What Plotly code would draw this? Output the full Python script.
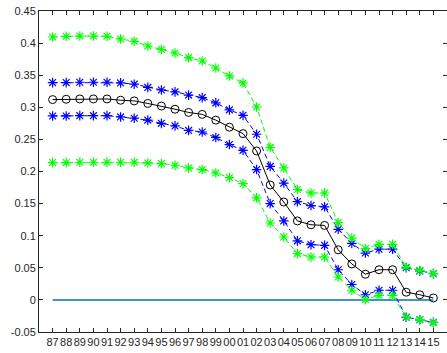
import plotly.graph_objects as go

years = ["87","88","89","90","91","92","93","94","95","96","97","98","99","00","01",
         "02","03","04","05","06","07","08","09","10","11","12","13","14","15"]

mean_vals = [0.312, 0.3125, 0.313, 0.313, 0.313, 0.311, 0.310, 0.306, 0.302, 0.297,
             0.292, 0.289, 0.280, 0.269, 0.259, 0.232, 0.179, 0.1525, 0.123, 0.117,
             0.116, 0.078, 0.056, 0.040, 0.047, 0.047, 0.012, 0.008, 0.003]

blue_upper = [0.3385, 0.3385, 0.339, 0.339, 0.339, 0.338, 0.336, 0.331, 0.327, 0.324,
              0.319, 0.315, 0.307, 0.296, 0.2875, 0.258, 0.208, 0.182, 0.153, 0.147,
              0.145, 0.110, 0.088, 0.073, 0.079, 0.079, 0.050, 0.045, 0.041]

blue_lower = [0.2865, 0.2865, 0.287, 0.287, 0.287, 0.285, 0.283, 0.280, 0.275, 0.271,
              0.264, 0.2615, 0.253, 0.242, 0.233, 0.203, 0.150, 0.123, 0.092, 0.086,
              0.085, 0.047, 0.024, 0.008, 0.015, 0.015, -0.027, -0.031, -0.035]

green_upper = [0.4095, 0.4106, 0.411, 0.411, 0.4106, 0.4064, 0.4028, 0.3955, 0.390, 0.3846,
               0.3774, 0.3721, 0.3612, 0.3488, 0.3379, 0.3005, 0.2375, 0.2055, 0.172, 0.1665,
               0.1665, 0.1204, 0.0963, 0.080, 0.0866, 0.0866, 0.0512, 0.046, 0.041]

green_lower = [0.2139, 0.2139, 0.2144, 0.2144, 0.2144, 0.2144, 0.2144, 0.2133, 0.2123, 0.2097,
               0.2055, 0.203, 0.1977, 0.1905, 0.181, 0.159, 0.1198, 0.098, 0.0721, 0.0668,
               0.0668, 0.0357, 0.015, 0.0005, 0.0072, 0.0072, -0.0266, -0.0307, -0.0354]

zero_line = [0.0] * len(years)

y_ticks = [-0.05, 0, 0.05, 0.1, 0.15, 0.2, 0.25, 0.3, 0.35, 0.4, 0.45]
y_tick_text = ["-0.05", "0", "0.05", "0.1", "0.15", "0.2", "0.25", "0.3", "0.35", "0.4", "0.45"]

x = list(range(1, len(years) + 1))

fig = go.Figure()

fig.add_trace(go.Scatter(x=x, y=zero_line, mode="lines",
                         line=dict(color="#0072BD", width=1.5), showlegend=False))

def band(yvals, color):
    fig.add_trace(go.Scatter(
        x=x, y=yvals, mode="lines+markers",
        line=dict(color=color, width=1, dash="5px,3px"),
        marker=dict(symbol="asterisk-open", size=8, color=color,
                    line=dict(color=color, width=1.2)),
        showlegend=False))

band(blue_upper, "#0000FF")
band(blue_lower, "#0000FF")
band(green_upper, "#00FF00")
band(green_lower, "#00FF00")

fig.add_trace(go.Scatter(
    x=x, y=mean_vals, mode="lines+markers",
    line=dict(color="#000000", width=1),
    marker=dict(symbol="circle-open", size=8, color="#000000",
                line=dict(color="#000000", width=1)),
    showlegend=False))

axis_color = "#262626"
fig.update_layout(
    width=447, height=353,
    margin=dict(l=39, r=0, t=11, b=21),
    paper_bgcolor="white", plot_bgcolor="white",
    font=dict(family="Liberation Sans, Arial, sans-serif", size=11, color=axis_color),
    xaxis=dict(range=[0, 30], tickmode="array", tickvals=x, ticktext=years,
               showgrid=False, zeroline=False, showline=True, linecolor=axis_color,
               linewidth=1, mirror="ticks", ticks="inside", ticklen=4,
               tickcolor=axis_color, tickfont=dict(size=11), tickangle=0),
    yaxis=dict(range=[-0.05, 0.45], tickmode="array", tickvals=y_ticks,
               ticktext=y_tick_text, showgrid=False, zeroline=False, showline=True,
               linecolor=axis_color, linewidth=1, mirror="ticks", ticks="inside",
               ticklen=4, tickcolor=axis_color, tickfont=dict(size=11)),
)

fig.write_html("out.html")
